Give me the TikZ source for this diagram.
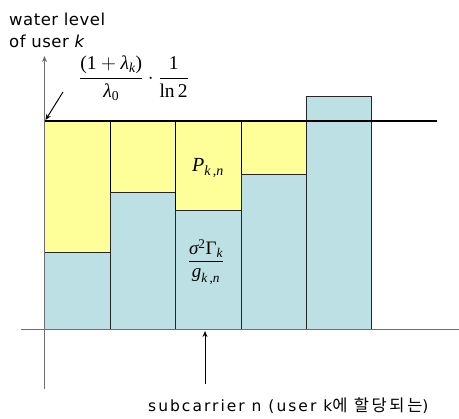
\documentclass[tikz,border=0pt]{standalone}
\usepackage{amsmath}
\usepackage[no-math]{fontspec}
\setmainfont{DejaVu Sans}
\newfontfamily\krfont{Noto Sans CJK KR}
\newfontfamily\tms{Liberation Serif}
\newcommand{\myit}[1]{\text{\tms\itshape #1}}
\newcommand{\myrm}[1]{\text{\tms\upshape #1}}
\usetikzlibrary{arrows.meta}
\definecolor{wyellow}{HTML}{FFFF99}
\definecolor{wblue}{HTML}{BCE0E4}
\definecolor{axisgray}{HTML}{6E6E6E}
\tikzset{
  pw/.style={fill=wyellow, draw=black, line width=1pt},
  nb/.style={fill=wblue, draw=black!85, line width=1pt},
  axisline/.style={draw=axisgray, line width=1.4pt},
  tip/.style={-{Stealth[length=6pt,width=5pt]}},
  lbl/.style={inner sep=0pt, font=\fontsize{16.5}{19}\selectfont\addfontfeatures{LetterSpace=3}},
  mlbl/.style={inner sep=0pt}
}
\begin{document}
\begin{tikzpicture}[x=1pt,y=-1pt]
\useasboundingbox (0,0) rectangle (459,419);
% bars: power (yellow) on top of noise-to-gain (blue)
\path[pw] (44.5,121) rectangle (110,253);
\path[nb] (44.5,253) rectangle (110,329.5);
\path[pw] (110,121) rectangle (175.5,193);
\path[nb] (110,193) rectangle (175.5,329.5);
\path[pw] (175.5,121) rectangle (241,211);
\path[nb] (175.5,211) rectangle (241,329.5);
\path[pw] (241,121) rectangle (306,175);
\path[nb] (241,175) rectangle (306,329.5);
\path[nb] (306,97) rectangle (371,329.5);
% axes
\coordinate (xl) at (21,329.5);
\coordinate (xr) at (459,329.5);
\coordinate (yb) at (44.5,389);
\coordinate (yt) at (44.5,56);
\draw[axisline] (xl) -- (xr);
\draw[axisline, tip] (yb) -- (yt);
% water level line
\coordinate (wl) at (44.5,121);
\coordinate (wr) at (437,121);
\draw[line width=2pt] (wl) -- (wr);
% labels
\node[lbl, anchor=base west] (t1) at (9,26) {water level};
\node[lbl, anchor=base west] (t2) at (9,48) {of user {\itshape k}};
\node[mlbl] (f) at (134,78) {\fontsize{19.5}{23}\selectfont$\displaystyle\frac{\myrm{(1}+\myit{λ}_{\myit{k}}\myrm{)}}{\myit{λ}_{\myrm{0}}}\cdot\frac{\myrm{1}}{\myrm{ln\,2}}$};
\coordinate (fa) at (63,92);
\coordinate (fb) at (45.5,120);
\draw[line width=1pt, tip] (fa) -- (fb);
\node[mlbl] (p) at (208,168) {\fontsize{20}{24}\selectfont$\myit{P}_{\myit{k}\myrm{\,,}\myit{n}}$};
\node[mlbl] (s) at (206,262) {\fontsize{19}{23}\selectfont$\displaystyle\frac{\myit{σ}^{\myrm{2}}\myrm{Γ}_{\myit{k}}}{\myit{g}_{\myit{k}\myrm{\,,}\myit{n}}}$};
\node[inner sep=0pt, anchor=base west, font=\fontsize{15.5}{18}\selectfont] (sc) at (148,412) {\addfontfeatures{LetterSpace=13}subcarrier n (user k{\krfont\fontsize{16.5}{18}\selectfont\addfontfeatures{LetterSpace=16}에 할당되는}\addfontfeatures{LetterSpace=13})};
\coordinate (sa) at (205,384);
\coordinate (sb) at (205,331);
\draw[line width=1pt, tip] (sa) -- (sb);
\end{tikzpicture}
\end{document}
